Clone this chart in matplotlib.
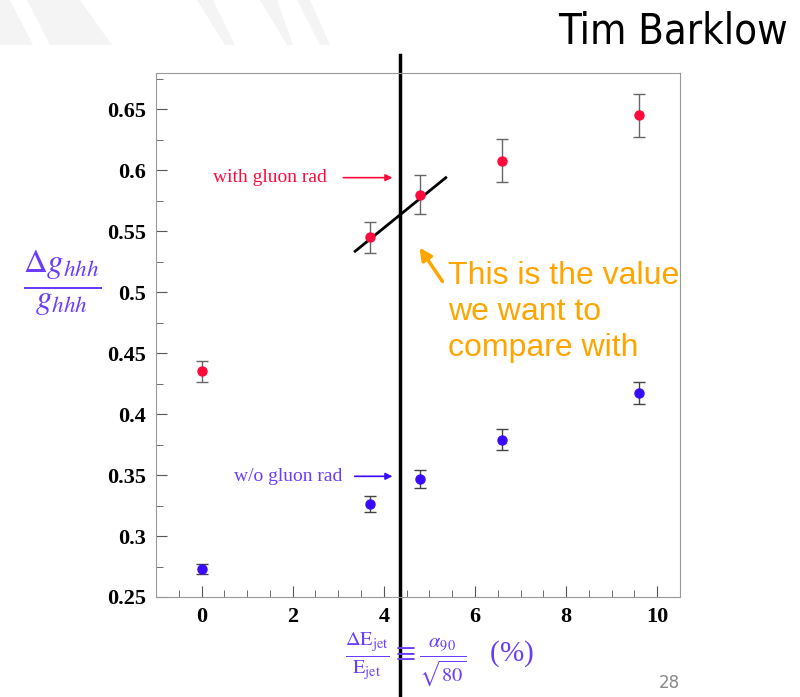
import matplotlib
matplotlib.use("Agg")
import matplotlib.pyplot as plt
from matplotlib.patches import Polygon
from matplotlib.ticker import MultipleLocator

# jet energy resolution (%)
x_res = [0.0, 3.7, 4.8, 6.6, 9.6]
# with gluon radiation
y_glu = [0.435, 0.545, 0.580, 0.608, 0.645]
e_glu = [0.009, 0.013, 0.016, 0.0175, 0.018]
# without gluon radiation
y_noglu = [0.273, 0.326, 0.347, 0.379, 0.417]
e_noglu = [0.004, 0.0065, 0.0075, 0.0085, 0.009]
yticks = [0.25, 0.3, 0.35, 0.4, 0.45, 0.5, 0.55, 0.6, 0.65]
xticks = [0, 2, 4, 6, 8, 10]
cut_x = 4.35  # the vertical marker line
fit_x = [3.37, 5.36]
fit_y = [0.5336, 0.594]

plt.rcParams['mathtext.fontset'] = 'stix'
red = '#ff0a3c'
blue = '#3a0aff'
lblue = '#6a3cff'
orange = '#ffa500'

fig = plt.figure(figsize=(8, 6.97), dpi=100)

# faint slide background stripes
bg = fig.add_axes([0, 0, 1, 1], zorder=-1)
bg.set_xlim(0, 800)
bg.set_ylim(697, 0)
bg.axis('off')
for pts in [[(0, 0), (10, 0), (33, 45), (0, 45)],
            [(27, 0), (80, 0), (112, 45), (50, 45)],
            [(197, 0), (213, 0), (235, 45), (225, 45)],
            [(260, 0), (277, 0), (293, 45), (287, 45)],
            [(297, 0), (310, 0), (330, 45), (320, 45)]]:
    bg.add_patch(Polygon(pts, closed=True, color='#f4f4f4', lw=0))

ax = fig.add_axes([0.195, 0.1435, 0.655, 0.752])
ax.errorbar(x_res, y_glu, yerr=e_glu, fmt='o', color=red, ms=6.5,
            ecolor='#666666', elinewidth=1, capsize=4, capthick=1)
ax.errorbar(x_res, y_noglu, yerr=e_noglu, fmt='o', color=blue, ms=6.5,
            ecolor='#444444', elinewidth=1, capsize=4, capthick=1)

ax.set_xlim(-1, 10.5)
ax.set_ylim(0.25, 0.68)
ax.set_xticks(xticks)
ax.set_yticks(yticks)
ax.set_yticklabels(['%g' % v for v in yticks])
ax.xaxis.set_minor_locator(MultipleLocator(0.5))
ax.yaxis.set_minor_locator(MultipleLocator(0.025))
ax.tick_params(which='both', direction='in', top=False, right=False,
               color='#555555', labelsize=16, pad=7)
ax.tick_params(which='major', length=8)
ax.tick_params(which='minor', length=5)
for lab in ax.get_xticklabels() + ax.get_yticklabels():
    lab.set_fontfamily('Liberation Serif')
    lab.set_fontweight('bold')
for s in ax.spines.values():
    s.set_color('#999999')

# vertical cut line, runs past the frame
ax.plot([cut_x, cut_x], [0.165, 0.695], color='black', lw=2.5, clip_on=False)
ax.plot(fit_x, fit_y, color='black', lw=2)

ax.annotate('', xy=(4.25, 0.594), xytext=(3.05, 0.594),
            arrowprops=dict(arrowstyle='-|>', color=red, lw=1.2, mutation_scale=10))
ax.text(1.5, 0.594, 'with gluon rad', color=red, fontsize=14,
        family='Liberation Serif', ha='center', va='center')
ax.annotate('', xy=(4.25, 0.349), xytext=(3.3, 0.349),
            arrowprops=dict(arrowstyle='-|>', color=blue, lw=1.2, mutation_scale=10))
ax.text(1.9, 0.349, 'w/o gluon rad', color=lblue, fontsize=14,
        family='Liberation Serif', ha='center', va='center')

ax.annotate('', xy=(4.75, 0.5385), xytext=(5.32, 0.507),
            arrowprops=dict(arrowstyle='-|>', color=orange, lw=2.5, mutation_scale=18))
ax.text(5.4, 0.526, 'This is the value\nwe want to\ncompare with', color=orange,
        fontsize=23, family='Liberation Sans', ha='left', va='top', linespacing=1.28)

fig.text(0.078, 0.595, r'$\frac{\Delta g_{hhh}}{g_{hhh}}$', color=lblue, fontsize=34,
         ha='center', va='center')
fig.text(0.55, 0.053, r'$\frac{\Delta\mathrm{E}_{\mathrm{jet}}}{\mathrm{E}_{\mathrm{jet}}}'
         r'\equiv\frac{\alpha_{90}}{\sqrt{80}}$   (%)', color=lblue, fontsize=21,
         ha='center', va='center', family='Liberation Serif')

fig.text(0.985, 0.955, 'Tim Barklow', fontsize=30, family='DejaVu Sans',
         stretch='condensed', ha='right', va='center')
fig.text(0.85, 0.02, '28', fontsize=12, color='#888888', ha='right', va='center')

fig.savefig('out.png')
